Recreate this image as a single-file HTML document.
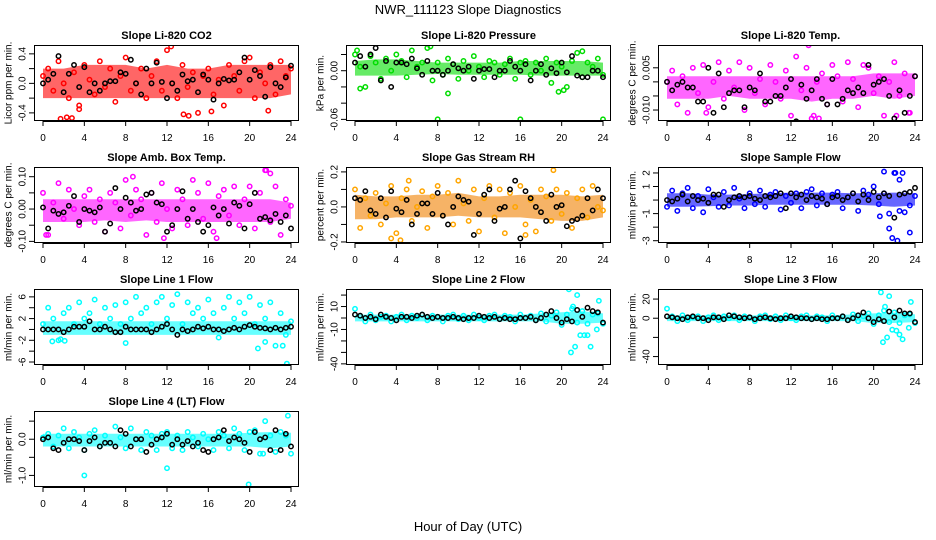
<!DOCTYPE html>
<html><head><meta charset="utf-8"><style>
html,body{margin:0;padding:0;background:#fff}
svg{display:block;font-family:"Liberation Sans",sans-serif}
</style></head><body>
<svg id="chart" width="936" height="540" viewBox="0 0 936 540" xmlns="http://www.w3.org/2000/svg">
<text x="468" y="14" text-anchor="middle" font-size="13">NWR_111123  Slope Diagnostics</text>
<text x="468" y="531" text-anchor="middle" font-size="13">Hour of Day (UTC)</text>
</svg>
<script>
// ---- data ----
const hourTicks = [0,4,8,12,16,20,24];
const titles = ["Slope Li-820 CO2","Slope Li-820 Pressure","Slope Li-820 Temp.","Slope Amb. Box Temp.","Slope Gas Stream RH","Slope Sample Flow","Slope Line 1 Flow","Slope Line 2 Flow","Slope Line 3 Flow","Slope Line 4 (LT) Flow"];
const yLabels = ["Licor ppm per min.","kPa per min.","degrees C per min.","degrees C per min.","percent per min.","ml/min per min.","ml/min per min.","ml/min per min.","ml/min per min.","ml/min per min."];
const colors = ["#ff0000","#00dd00","#ff00ff","#ff00ff","#ffa500","#0000ff","#00ffff","#00ffff","#00ffff","#00ffff"];
const bandColors = ["#ff0000","#00dd00","#ff00ff","#ff00ff","#f08000","#0000ff","#00ffff","#00ffff","#00ffff","#00ffff"];
const yDomains = [[-0.51,0.52],[-0.062,0.0317],[-0.0139,0.0131],[-0.105,0.13],[-0.206,0.228],[-3.17,2.44],[-6.55,7.45],[-41,25.3],[-48.8,30.5],[-1.32,0.78]];
const yTicks = [[-0.4,-0.2,0,0.2,0.4],[-0.06,-0.04,-0.02,0,0.02],[-0.01,-0.005,0,0.005],[-0.1,-0.05,0,0.05,0.1],[-0.2,-0.1,0,0.1,0.2],[-3,-2,-1,0,1,2],[-6,-4,-2,0,2,4,6],[-40,-30,-20,-10,0,10,20],[-40,-20,0,20],[-1,-0.5,0,0.5]];
const yTickLabels = [["-0.4","","0.0","","0.4"],["-0.06","","","0.00",""],["-0.010","","","0.005"],["-0.10","","0.00","","0.10"],["-0.2","","0.0","","0.2"],["-3","","-1","","1","2"],["-6","","-2","","2","","6"],["-40","","","-10","","10",""],["-40","","0","20"],["-1.0","","0.0",""]];
const bandLo = [
 [-0.2,-0.2,-0.2,-0.2,-0.2,-0.2,-0.2,-0.2,-0.2,-0.2,-0.2,-0.2,-0.15],
 [-0.006,-0.006,-0.006,-0.005,-0.004,-0.005,-0.005,-0.005,-0.005,-0.006,-0.006,-0.006,-0.006],
 [-0.006,-0.006,-0.006,-0.005,-0.006,-0.006,-0.006,-0.007,-0.006,-0.006,-0.005,-0.006,-0.005],
 [-0.04,-0.04,-0.04,-0.035,-0.04,-0.035,-0.04,-0.04,-0.04,-0.04,-0.04,-0.04,-0.03],
 [-0.07,-0.07,-0.06,-0.06,-0.06,-0.05,-0.06,-0.06,-0.06,-0.07,-0.08,-0.08,-0.06],
 [-0.5,-0.5,-0.45,-0.4,-0.4,-0.35,-0.35,-0.35,-0.35,-0.35,-0.4,-0.5,-0.4],
 [-1,-1,-1,-1,-1,-1,-1,-1,-1,-1,-1,-1,-1],
 [-3,-3,-3,-3,-3,-3,-3,-3,-3,-3,-5,-5,-4],
 [-3,-3,-3,-3,-3,-3,-3,-3,-3,-3,-5,-5,-4],
 [-0.2,-0.2,-0.2,-0.2,-0.2,-0.2,-0.2,-0.2,-0.2,-0.2,-0.2,-0.25,-0.2]
];
const bandHi = [
 [0.2,0.2,0.25,0.25,0.25,0.2,0.25,0.2,0.2,0.25,0.25,0.25,0.25],
 [0.012,0.014,0.014,0.012,0.01,0.01,0.01,0.01,0.012,0.012,0.012,0.012,0.01],
 [0.002,0.002,0.002,0.002,0.002,0.002,0.002,0.002,0.002,0.002,0.003,0.003,0.003],
 [0.03,0.03,0.03,0.03,0.03,0.03,0.03,0.03,0.03,0.03,0.03,0.03,0.02],
 [0.07,0.06,0.06,0.07,0.07,0.08,0.06,0.06,0.07,0.07,0.07,0.06,0.07],
 [0.5,0.5,0.4,0.4,0.45,0.5,0.55,0.55,0.55,0.5,0.5,0.55,0.5],
 [1.5,1.5,1.5,1.5,1.5,1.5,1.5,1.5,1.5,1.5,1.5,1.5,1.5],
 [3,3,3,3,3,3,3,3,3,4,5,6,4],
 [3,3,3,3,3,3,3,3,3,4,5,6,4],
 [0.15,0.15,0.15,0.15,0.15,0.15,0.15,0.15,0.15,0.15,0.18,0.2,0.18]
];
const colorPts = [
 [0.1,0.2,-0.1,0.3,0.0,-0.2,0.15,-0.3,0.25,0.05,-0.15,0.3,-0.05,0.2,-0.25,0.1,0.35,-0.1,0.0,0.2,-0.2,0.1,0.3,-0.1,0.45,0.0,-0.2,0.25,-0.05,0.15,-0.4,0.1,0.2,-0.15,0.05,-0.3,0.25,0.1,-0.1,0.3,0.35,-0.2,0.15,0.0,0.25,-0.15,0.3,0.1,0.2],
 [0.02,0.005,-0.02,0.018,0.01,-0.01,0.015,0.0,0.02,0.012,-0.008,0.025,0.005,0.01,0.028,-0.012,0.01,-0.005,0.015,0.008,-0.01,0.012,0.0,0.018,0.005,-0.008,0.012,0.01,-0.005,0.008,0.015,-0.01,0.01,0.012,-0.005,0.01,0.0,0.015,-0.015,0.01,0.005,-0.02,0.012,0.022,-0.008,0.01,0.005,0.015,-0.005],
 [0.0,0.004,-0.008,0.002,-0.011,0.005,-0.004,0.006,-0.009,0.0,0.007,-0.006,0.004,-0.002,0.007,-0.01,0.005,-0.004,0.001,-0.008,0.006,0.0,-0.006,0.004,-0.012,0.009,-0.003,0.005,-0.013,0.0,0.003,-0.008,0.006,0.002,-0.007,0.007,0.001,-0.009,0.006,0.005,-0.004,0.002,-0.012,0.0,0.007,-0.005,0.003,-0.011,0.002],
 [0.05,-0.08,0.02,0.08,-0.03,0.06,0.0,-0.05,0.04,0.06,-0.04,0.03,-0.07,0.05,0.02,-0.06,0.09,-0.02,0.06,0.03,-0.08,0.05,-0.04,0.08,0.0,-0.06,0.06,0.03,-0.05,0.09,0.05,-0.03,0.08,-0.07,0.04,0.06,-0.02,0.07,-0.05,0.03,0.07,-0.06,0.05,0.12,-0.04,0.07,-0.08,0.03,0.01],
 [0.1,-0.12,0.05,-0.05,0.08,-0.1,0.02,0.12,-0.15,0.05,0.1,-0.08,0.0,0.09,-0.12,0.06,0.12,-0.05,0.08,-0.1,0.15,0.02,-0.08,0.1,-0.14,0.05,0.12,-0.06,0.1,-0.15,0.08,0.0,0.12,-0.1,0.04,-0.14,0.1,0.06,-0.08,0.1,-0.04,0.08,-0.12,0.05,0.1,-0.06,0.12,0.0,-0.02],
 [-0.5,0.7,-0.8,0.5,0.9,-0.6,0.3,-0.9,0.8,0.2,-0.5,0.6,-0.4,0.9,0.1,-0.6,0.5,-0.3,0.7,-0.5,0.4,0.6,-0.7,0.3,-0.2,0.5,-0.6,0.6,0.8,-0.4,0.5,-0.3,0.4,0.6,-0.6,0.2,0.5,-0.8,0.7,0.4,1.0,-0.3,0.5,-1.0,2.0,-0.8,0.5,-0.4,0.3],
 [1,4,2,-2,3,4,1,5,2,3,5.5,1,4,2,4.5,1,5,2,6,3,4,1,5,6,2,4.5,6.5,1,5,3,4,2,5.5,3,-1.5,4,6,2,5,3,6,1,4.5,2,5,-3,3,-1,1.5],
 [8,2,-3,3,-2,1,2,-3,1,3,-2,2,0,3,-2,2,1,-3,2,3,-1,2,-2,3,0,-2,2,3,-1,2,1,-3,3,0,2,-2,4,-3,2,5,-6,3,8,-4,6,-5,3,4,-5],
 [10,2,-3,3,-2,1,2,-3,1,3,-2,2,0,3,-2,2,1,-3,2,3,-1,2,-2,3,0,-2,2,3,-1,2,1,-3,3,0,2,-2,4,-3,2,5,-6,3,8,-4,6,-5,3,4,-5],
 [0.05,0.15,-0.2,0.1,0.3,-0.25,0.2,0.05,-0.3,0.15,0.25,-0.2,0.1,-0.1,0.35,0.05,-0.25,0.3,0.0,-0.3,0.2,0.1,-0.3,0.15,0.2,-0.25,0.1,-0.3,0.2,0.05,-0.2,0.15,0.0,-0.3,0.2,0.1,-0.25,0.3,0.15,-0.3,0.2,0.25,-0.4,0.5,0.1,-0.35,0.2,0.1,-0.4]
];
const outX = [
 [1.7,2.3,2.8,3.5,12,12.4,13.6,14.1,16.3,21.8],
 [0.2,0.5,7.3,8,9,16,24,19.7,20.2,22],
 [13.7,14.2,14.7,22.2,23.4,3.8],
 [8.7,11.7,21.6,22,16.8,0.3],
 [3.5,4.4,5.2,19.2,16.5],
 [21,21.5,21.8,22.1,22.5,22.8,23.0,23.5,22.3,20.6],
 [20.8,21.5,23.2,23.6,0.9,1.7,2.1,8],
 [20.7,20.9,21.3,21.5,21.8,22.2,22.5,22.8,23.4,23.6,21.1],
 [20.7,20.9,21.3,21.5,21.8,22.2,22.5,22.8,23.4,23.6,21.1],
 [4,12,19.9,23.7,21.3]
];
const outY = [
 [-0.48,-0.46,-0.47,-0.35,0.55,0.5,-0.42,-0.44,-0.38,-0.37],
 [0.025,-0.022,0.03,-0.06,-0.028,-0.06,-0.06,-0.026,-0.024,0.024],
 [0.013,-0.012,-0.013,-0.012,-0.011,-0.011],
 [0.1,-0.09,0.12,0.11,-0.09,-0.08],
 [-0.18,-0.19,0.15,0.21,-0.16],
 [2.1,-2.1,-2.8,2.0,1.5,2.0,-0.9,-2.4,-3.0,-1.2],
 [-3.5,-2.3,-3,-6.3,-2.2,-1.8,-2.1,-2.5],
 [25,-30,-25,20,-15,-15,-15,-25,-10,15,10],
 [27,-25,-20,23,-12,-13,-17,-22,-10,17,12],
 [-1.0,-0.8,-1.25,0.65,-0.4]
];
const blackPts = [
 [0.0,0.05,0.13,0.37,-0.12,0.13,0.25,-0.05,0.22,-0.12,0.0,-0.1,0.0,0.03,0.03,0.15,0.13,0.32,0.0,-0.15,0.2,0.0,0.28,0.02,-0.2,0.0,-0.1,0.12,0.03,0.05,-0.12,0.12,0.05,-0.22,0.0,0.06,0.04,0.05,0.15,0.35,0.05,0.18,0.1,-0.18,0.22,0.0,-0.05,0.08,0.24],
 [0.01,0.018,0.005,0.02,0.028,-0.012,0.012,-0.02,0.01,0.01,0.008,0.015,0.003,-0.005,0.012,0.0,0.0,-0.005,0.0,0.008,0.003,0.0,0.005,-0.01,0.0,0.002,0.002,-0.008,0.0,0.0,0.012,0.005,0.0,0.008,-0.012,0.0,0.008,-0.005,0.003,-0.003,0.01,-0.002,0.018,-0.006,-0.008,-0.008,0.0,0.0,-0.008],
 [0.0,-0.003,-0.001,0.0,-0.002,-0.002,-0.007,-0.007,0.005,-0.011,0.003,-0.009,-0.004,-0.003,-0.003,-0.009,-0.002,-0.003,0.003,-0.007,-0.007,-0.005,-0.005,-0.002,0.001,-0.014,-0.001,-0.006,-0.003,0.001,-0.006,-0.008,0.001,-0.008,-0.006,-0.003,-0.004,-0.002,-0.004,0.006,-0.001,0.0,0.001,-0.005,-0.013,-0.003,-0.011,-0.005,0.002],
 [0.005,-0.06,-0.005,-0.015,-0.01,0.01,0.04,-0.04,0.0,-0.005,-0.01,0.005,-0.07,-0.045,0.065,0.0,0.035,0.02,-0.005,0.0,0.045,0.05,0.02,0.015,-0.07,-0.05,0.0,0.055,-0.03,0.0,-0.04,-0.07,-0.05,0.005,-0.02,0.0,-0.045,0.02,0.01,-0.06,0.015,0.05,-0.03,-0.025,-0.035,-0.015,-0.04,-0.02,-0.06],
 [0.05,0.04,0.09,-0.02,-0.04,0.05,-0.06,0.09,-0.01,-0.03,0.04,-0.1,-0.04,0.02,0.02,-0.04,0.08,-0.05,-0.1,0.0,0.06,0.04,0.03,-0.16,-0.04,0.07,0.1,-0.08,-0.01,0.0,0.1,0.15,-0.18,0.09,0.05,0.0,-0.03,-0.08,0.07,0.0,0.01,-0.11,-0.08,-0.07,-0.05,0.05,-0.02,0.1,0.05],
 [0.0,-0.1,0.1,0.4,-0.1,0.3,0.0,0.1,-0.2,0.4,0.4,-0.5,0.0,0.2,0.3,0.2,0.3,0.1,0.0,0.3,0.2,0.3,0.5,-0.6,0.5,0.2,0.4,0.0,0.3,0.2,0.1,-0.3,0.2,0.3,0.0,0.2,0.5,-0.1,0.4,0.0,0.6,0.2,0.5,0.3,-1.3,0.4,0.5,0.6,0.9],
 [0,0,0,0,-0.5,0,0.5,0.5,0.5,1.5,0,0,0.5,0,-0.5,-0.5,0.5,0,0,0,0,-0.5,0,0.5,1,0,-1,0,-0.3,0,0.5,0.2,0.5,0,0,-0.3,0,0.3,0,0.5,0.8,0.5,0.3,0.2,0,0.3,0,0.3,0.5],
 [3,2,0,1,-1,3,1,0,-2,1,1,0,2,3,1,0,1,0,0,1,0,-1,0,0,2,1,0,1,-1,0,-1,-1,0,0,1,-2,0,3,6,0,-4,-1,-3,7,1,9,6,5,-4],
 [2,1,0,-1,1,2,0,0,-2,1,1,-1,3,2,1,0,1,-1,0,1,0,-1,0,0,2,1,0,0,-1,0,-1,-1,0,0,2,-2,0,3,6,0,-4,-1,-3,7,1,8,5,5,-4],
 [0,0.05,-0.25,-0.3,-0.1,0,0,-0.05,-0.3,-0.05,0.05,-0.2,-0.1,-0.1,-0.2,0.25,0.15,-0.2,0.0,0.0,-0.35,-0.15,0.0,0.05,0.15,-0.15,0.0,-0.15,-0.05,-0.2,-0.1,-0.3,-0.35,0.0,0.05,0.25,-0.05,0.05,0,-0.1,-0.35,0.2,0.0,0.05,-0.3,0.25,-0.3,0.15,-0.2]
];

// ---- drawing ----
const NS = "http://www.w3.org/2000/svg";
const svg = document.getElementById("chart");
function mk(tag, attrs, parent){ const e=document.createElementNS(NS,tag); for(const k in attrs) e.setAttribute(k,attrs[k]); (parent||svg).appendChild(e); return e; }
const BOX_W = 265, BOX_H = 76;
function hourSeq(n){ const a=[]; for(let i=0;i<n;i++) a.push(i*24/(n-1)); return a; }

titles.forEach((title, p) => {
  const col = p % 3, row = Math.floor(p / 3);
  const L = 34 + 312*col, T = 45 + 122*row, R = L + BOX_W, B = T + BOX_H;
  const xs = h => L + 9 + (h/24)*248;
  const dom = yDomains[p];
  const ys = v => B - (v - dom[0])/(dom[1]-dom[0])*BOX_H;
  const g = mk("g", {});
  
  
  const clip = mk("clipPath", {id:"clip"+p}, g);
  mk("rect", {x:L, y:T, width:BOX_W, height:BOX_H}, clip);
  const pts = mk("g", {"clip-path":"url(#clip"+p+")"}, g);
  
  
  const c = colors[p];
  const bh = hourSeq(bandLo[p].length);
  let d = "";
  bh.forEach((h,i)=>{ d += (i?"L":"M") + xs(h).toFixed(1) + " " + ys(bandHi[p][i]).toFixed(1); });
  for(let i=bh.length-1;i>=0;i--) d += "L" + xs(bh[i]).toFixed(1) + " " + ys(bandLo[p][i]).toFixed(1);
  const band = mk("path", {d:d+"Z", fill:bandColors[p], "fill-opacity":0.6, stroke:"none"}, pts);
  
  
  const ch = hourSeq(colorPts[p].length);
  colorPts[p].forEach((v,i)=>{
    const e = mk("circle", {cx:xs(ch[i]), cy:ys(v), r:2.2, fill:"none", stroke:c, "stroke-width":1.5}, pts);
    
    
  });
  outX[p].forEach((h,i)=>{
    const e = mk("circle", {cx:xs(h), cy:ys(outY[p][i]), r:2.2, fill:"none", stroke:c, "stroke-width":1.5}, pts);
    
    
  });
  const kh = hourSeq(blackPts[p].length);
  blackPts[p].forEach((v,i)=>{
    const e = mk("circle", {cx:xs(kh[i]), cy:ys(v), r:2.2, fill:"none", stroke:"#000", "stroke-width":1.5}, pts);
    
    
  });
  const box = mk("rect", {x:L+0.5, y:T+0.5, width:BOX_W-1, height:BOX_H-1, fill:"none", stroke:"#000", "stroke-width":1}, g);
  
  
  const tt = mk("text", {x:(L+R)/2, y:T-6, "text-anchor":"middle", "font-size":11, "font-weight":"bold"}, g);
  tt.textContent = title;
  
  
  mk("line", {x1:xs(0), x2:xs(24), y1:B+0.5, y2:B+0.5, stroke:"#000"}, g);
  hourTicks.forEach(h=>{
    mk("line", {x1:xs(h), x2:xs(h), y1:B, y2:B+5, stroke:"#000"}, g);
    const t = mk("text", {x:xs(h), y:B+20, "text-anchor":"middle", "font-size":10}, g);
    t.textContent = h;
    
    
  });
  const yt = yTicks[p];
  mk("line", {x1:L+0.5, x2:L+0.5, y1:ys(yt[0]), y2:ys(yt[yt.length-1]), stroke:"#000"}, g);
  yt.forEach((v,i)=>{
    const y = ys(v);
    mk("line", {x1:L-5, x2:L, y1:y, y2:y, stroke:"#000"}, g);
    const lab = yTickLabels[p][i];
    if(lab){
      const t = mk("text", {x:L-11, y:y, "text-anchor":"middle", "font-size":10, transform:"rotate(-90 "+(L-11)+" "+y+")", "dominant-baseline":"middle"}, g);
      t.textContent = lab;
      
      
    }
  });
  const yl = mk("text", {x:L-25, y:(T+B)/2, "text-anchor":"middle", "font-size":10, transform:"rotate(-90 "+(L-25)+" "+((T+B)/2)+")", "dominant-baseline":"middle"}, g);
  yl.textContent = yLabels[p];
  
  
});
</script>
</body></html>
